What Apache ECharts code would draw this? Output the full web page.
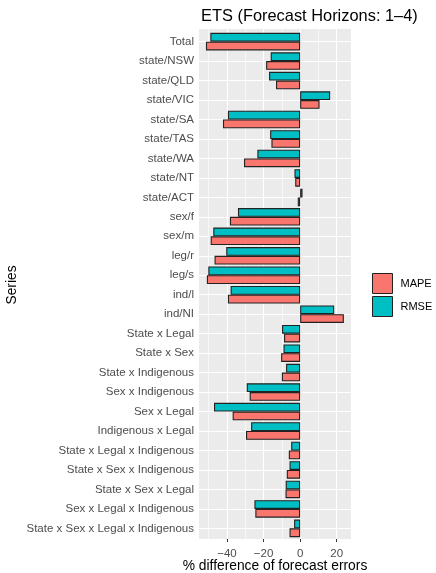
<!DOCTYPE html>
<html>
<head>
<meta charset="utf-8">
<script src="https://cdn.jsdelivr.net/npm/echarts@6/dist/echarts.min.js"></script>
<style>
  html, body { margin: 0; padding: 0; background: #ffffff; }
  #chart { width: 436px; height: 573px; }
</style>
</head>
<body>
<div id="chart"></div>
<script>
// Series (top to bottom)
const categories = [
  'Total', 'state/NSW', 'state/QLD', 'state/VIC', 'state/SA', 'state/TAS',
  'state/WA', 'state/NT', 'state/ACT', 'sex/f', 'sex/m', 'leg/r', 'leg/s',
  'ind/l', 'ind/NI', 'State x Legal', 'State x Sex', 'State x Indigenous',
  'Sex x Indigenous', 'Sex x Legal', 'Indigenous x Legal',
  'State x Legal x Indigenous', 'State x Sex x Indigenous',
  'State x Sex x Legal', 'Sex x Legal x Indigenous',
  'State x Sex x Legal x Indigenous'
];

// % difference of forecast errors
const mape = [-51.5, -18.6, -13.2, 10.6, -42.2, -15.7, -30.7, -2.7, -1.3,
  -38.4, -48.9, -46.8, -51.0, -39.5, 23.9, -8.8, -10.4, -10.0, -27.6,
  -36.9, -29.6, -6.2, -7.3, -8.0, -24.5, -5.8];
const rmse = [-49.1, -16.1, -17.0, 16.4, -39.5, -16.4, -23.4, -3.1, 1.3,
  -34.0, -47.5, -40.4, -50.2, -38.0, 18.6, -9.9, -9.1, -7.7, -29.2,
  -47.1, -26.8, -4.9, -5.8, -7.9, -25.0, -3.3];

const xTicks = [-40, -20, 0, 20];
const xMinor = [-50, -30, -10, 10];
const xRange = [-55.3, 27.8];

const FONT = 'Liberation Sans, Arial, sans-serif';
const fmt = v => (v < 0 ? '\u2212' + Math.abs(v) : String(v));

const chart = echarts.init(document.getElementById('chart'), null, { renderer: 'canvas' });

const gridLine = (w) => ({ color: '#ffffff', width: w, type: 'solid' });

chart.setOption({
  animation: false,
  title: {
    text: 'ETS (Forecast Horizons: 1\u20134)',
    left: 196, top: 3,
    textStyle: { fontFamily: FONT, fontSize: 16.4, fontWeight: 'normal', color: '#000000' }
  },
  legend: {
    orient: 'vertical',
    left: 367, top: 268,
    itemWidth: 20, itemHeight: 20, itemGap: 2,
    icon: 'rect',
    data: ['MAPE', 'RMSE'],
    itemStyle: { borderColor: '#222222', borderWidth: 1 },
    textStyle: { fontFamily: FONT, fontSize: 11, color: '#000000', padding: [0, 0, 0, 3] }
  },
  grid: [
    // bars
    { left: 199, width: 152, top: 31.9, height: 506.2,
      containLabel: false, outerBoundsMode: 'none' },
    // panel background
    { left: 199, width: 152, top: 29, height: 510, show: true,
      backgroundColor: '#EBEBEB', borderWidth: 0, z: 0,
      containLabel: false, outerBoundsMode: 'none' }
  ],
  xAxis: [
    {
      gridIndex: 0, type: 'value', min: xRange[0], max: xRange[1], offset: 0.9,
      name: '% difference of forecast errors', nameLocation: 'middle', nameGap: 20,
      nameMoveOverlap: false,
      nameTextStyle: { fontFamily: FONT, fontSize: 13.8, color: '#000000' },
      axisLine: { show: false },
      axisTick: { show: true, length: 3, customValues: xTicks, lineStyle: { color: '#333333' } },
      axisLabel: { customValues: xTicks, formatter: fmt, margin: 9,
        fontFamily: FONT, fontSize: 11.5, color: '#4D4D4D' },
      splitLine: { show: false }
    },
    {
      gridIndex: 1, type: 'value', min: xRange[0], max: xRange[1], show: false,
      splitLine: { show: false }
    }
  ],
  yAxis: [
    {
      gridIndex: 0, type: 'category', data: categories, inverse: true,
      name: 'Series', nameLocation: 'middle', nameGap: 180, nameRotate: 90,
      nameMoveOverlap: false,
      nameTextStyle: { fontFamily: FONT, fontSize: 13.8, color: '#000000' },
      axisLine: { show: false },
      axisTick: { show: true, length: 3, alignWithLabel: true, lineStyle: { color: '#333333' } },
      axisLabel: { margin: 5, fontFamily: FONT, fontSize: 11.5, color: '#4D4D4D', interval: 0 },
      splitLine: { show: false }
    },
    {
      gridIndex: 1, type: 'value', min: 0, max: 1, show: false, splitLine: { show: false }
    }
  ],
  series: [
    // vertical grid lines spanning the full panel
    {
      type: 'line', xAxisIndex: 1, yAxisIndex: 1, data: [], z: 1, silent: true,
      markLine: {
        z: 1, silent: true, symbol: 'none', label: { show: false },
        data: [
          ...xMinor.map(v => ({ xAxis: v, lineStyle: gridLine(0.6) })),
          ...xTicks.map(v => ({ xAxis: v, lineStyle: gridLine(1.1) }))
        ]
      }
    },
    // horizontal grid lines at each series
    {
      type: 'line', xAxisIndex: 0, yAxisIndex: 0, data: [], z: 1, silent: true,
      markLine: {
        z: 1, silent: true, symbol: 'none', label: { show: false },
        data: categories.map(c => ({ yAxis: c, lineStyle: gridLine(1.1) }))
      }
    },
    {
      name: 'RMSE', type: 'bar', data: rmse, z: 3,
      barGap: '0%', barCategoryGap: '10%',
      itemStyle: { color: '#00BFC4', borderColor: '#222222', borderWidth: 1.1 }
    },
    {
      name: 'MAPE', type: 'bar', data: mape, z: 3,
      barGap: '0%', barCategoryGap: '10%',
      itemStyle: { color: '#F8766D', borderColor: '#222222', borderWidth: 1.1 }
    }
  ]
});
</script>
</body>
</html>
